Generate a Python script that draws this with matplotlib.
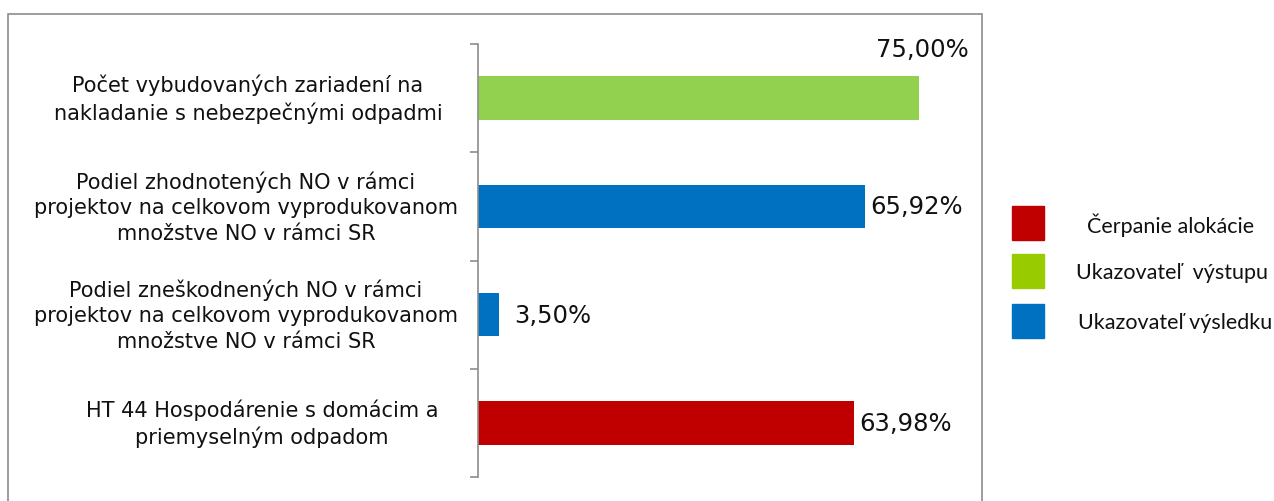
import matplotlib.pyplot as plt
from matplotlib.patches import Rectangle

categories = [
    "Počet vybudovaných zariadení na\nnakladanie s nebezpečnými odpadmi",
    "Podiel zhodnotených NO v rámci\nprojektov na celkovom vyprodukovanom\nmnožstve NO v rámci SR",
    "Podiel zneškodnených NO v rámci\nprojektov na celkovom vyprodukovanom\nmnožstve NO v rámci SR",
    "HT 44 Hospodárenie s domácim a\npriemyselným odpadom",
]
values = [75.00, 65.92, 3.50, 63.98]
value_labels = ["75,00%", "65,92%", "3,50%", "63,98%"]
bar_colors = ["#92D050", "#0070C0", "#0070C0", "#C00000"]

legend_labels = ["Čerpanie alokácie", "Ukazovateľ  výstupu", "Ukazovateľ výsledku"]
legend_colors = ["#C00000", "#99CC00", "#0070C0"]

W, H = 1274, 502
fig = plt.figure(figsize=(W / 100, H / 100), dpi=100)

# outer chart border (bottom edge is cut off in the original)
fig.add_artist(Rectangle((8 / W, -0.05), (982 - 8) / W, 1.05 - 15 / H,
                         transform=fig.transFigure, fill=False,
                         edgecolor="#8c8c8c", lw=1.2))

ax = fig.add_axes([478 / W, 1 - 478 / H, 470 / W, (478 - 45) / H])
y = range(len(values))
ax.barh(y, values, height=0.4, color=bar_colors)
ax.set_xlim(0, 80)
ax.set_ylim(3.5, -0.5)

for s in ["top", "right", "bottom"]:
    ax.spines[s].set_visible(False)
ax.spines["left"].set_color("#8c8c8c")
ax.spines["left"].set_linewidth(1.2)
ax.set_xticks([])
ax.set_yticks([-0.5, 0.5, 1.5, 2.5, 3.5])
ax.set_yticklabels([])
ax.tick_params(axis="y", length=6, width=1.2, color="#8c8c8c", direction="out")

font = "DejaVu Sans"
label_centers = [248, 246, 246, 262]
for i, (cat, cx) in enumerate(zip(categories, label_centers)):
    ax.text((cx - 478) / 470, i, cat, transform=ax.get_yaxis_transform(),
            ha="center", va="center", multialignment="center",
            fontsize=15, family=font, color="#111111", linespacing=1.35)

# value labels
for i, (v, lab) in enumerate(zip(values, value_labels)):
    if i == 0:
        ax.text(83.5, -0.45, lab, ha="right", va="center", fontsize=17.5,
                family=font, color="#111111", clip_on=False)
    else:
        off = 16 if v < 10 else 5
        ax.annotate(lab, (v, i), xytext=(off, 0), textcoords="offset pixels",
                    ha="left", va="center", fontsize=17.5, family=font,
                    color="#111111", annotation_clip=False)

# legend
sq_y = [207, 255, 305]
txt_x = [1171, 1172, 1175]
for lab, c, yy, tx in zip(legend_labels, legend_colors, sq_y, txt_x):
    fig.add_artist(Rectangle((1012 / W, 1 - (yy + 34) / H), 32 / W, 34 / H,
                             transform=fig.transFigure, color=c))
    fig.text(tx / W, 1 - (yy + 18) / H, lab, ha="center", va="center",
             fontsize=15.5, family="Lato", color="#111111")

fig.savefig("out.png", dpi=100)
